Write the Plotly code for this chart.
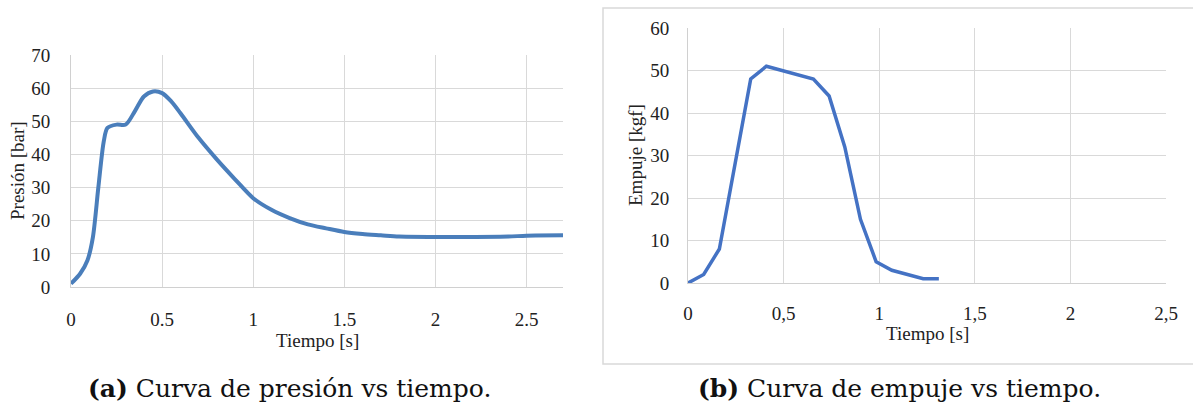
import plotly.graph_objects as go

W, H = 1193, 412

# (a) Pressure vs time
t_pres = [0.0, 0.05, 0.09, 0.12, 0.15, 0.18, 0.2, 0.25, 0.3, 0.35, 0.4, 0.45, 0.5,
          0.55, 0.6, 0.7, 0.8, 0.9, 1.0, 1.1, 1.2, 1.3, 1.4, 1.5, 1.6, 1.7, 1.8,
          2.0, 2.2, 2.4, 2.5, 2.7]
presion = [1, 4, 8, 15, 30, 44, 48, 49, 49, 53, 57.5, 59, 58.5,
           56, 52.5, 45, 38.5, 32.5, 26.8, 23.3, 20.8, 18.9, 17.7, 16.6, 16.0, 15.6, 15.2,
           15.1, 15.1, 15.2, 15.5, 15.6]

# (b) Thrust vs time
t_emp = [0.0, 0.082, 0.164, 0.328, 0.41, 0.656, 0.738, 0.82, 0.902, 0.984, 1.066, 1.23, 1.312]
empuje = [0, 2, 8, 48, 51, 48, 44, 32, 15, 5, 3, 1, 1]

x_ticks_a = [0, 0.5, 1, 1.5, 2, 2.5]
x_ticklabels_a = ["0", "0.5", "1", "1.5", "2", "2.5"]
y_ticks_a = [0, 10, 20, 30, 40, 50, 60, 70]
x_ticks_b = [0, 0.5, 1, 1.5, 2, 2.5]
x_ticklabels_b = ["0", "0,5", "1", "1,5", "2", "2,5"]
y_ticks_b = [0, 10, 20, 30, 40, 50, 60]

captions = ["<b>(a)</b> Curva de presión vs tiempo.", "<b>(b)</b> Curva de empuje vs tiempo."]

SERIF = "Liberation Serif"


def px_x(p):
    return p / W


def px_y(p):
    return 1 - p / H


fig = go.Figure()
fig.add_trace(go.Scatter(x=t_pres, y=presion, mode="lines",
                         line=dict(color="#4a7ebb", width=4, shape="spline", smoothing=0.8),
                         xaxis="x", yaxis="y", showlegend=False))
fig.add_trace(go.Scatter(x=t_emp, y=empuje, mode="lines", line=dict(color="#4472c4", width=3.5),
                         xaxis="x2", yaxis="y2", showlegend=False))

tickfont = dict(family=SERIF, size=19, color="#222222")
grid = "#d9d9d9"
common = dict(showgrid=True, gridcolor=grid, gridwidth=1, zeroline=False, showline=True,
              linecolor="#d0d0d0", tickfont=tickfont, ticks="", automargin=False)

fig.update_layout(
    template="none",
    width=W, height=H, margin=dict(l=0, r=0, t=0, b=0, pad=0, autoexpand=False),
    font=dict(family=SERIF, size=19, color="#222222"),
    paper_bgcolor="white", plot_bgcolor="white", showlegend=False,
    xaxis=dict(domain=[px_x(71), px_x(563)], range=[0, 2.7], tickvals=x_ticks_a, ticktext=x_ticklabels_a,
               ticklabelstandoff=15, anchor="y", **common),
    yaxis=dict(domain=[px_y(287), px_y(55)], range=[0, 70], tickvals=y_ticks_a,
               ticklabelstandoff=16, anchor="x", **common),
    xaxis2=dict(domain=[px_x(688), px_x(1166)], range=[0, 2.5], tickvals=x_ticks_b, ticktext=x_ticklabels_b,
                ticklabelstandoff=13, anchor="y2", **common),
    yaxis2=dict(domain=[px_y(283), px_y(28)], range=[0, 60], tickvals=y_ticks_b,
                ticklabelstandoff=14, anchor="x2", **common),
)

# frame around chart (b)
fig.add_shape(type="rect", xref="paper", yref="paper", x0=px_x(603), x1=px_x(1200), y0=px_y(364), y1=px_y(8),
              line=dict(color="#d9d9d9", width=1.5), fillcolor="rgba(0,0,0,0)", layer="below")

titlefont = dict(family=SERIF, size=19, color="#222222")
fig.add_annotation(text="Presión [bar]", xref="paper", yref="paper", x=px_x(18), y=px_y(171), textangle=-90,
                   showarrow=False, font=titlefont, xanchor="center", yanchor="middle")
fig.add_annotation(text="Tiempo [s]", xref="paper", yref="paper", x=px_x(317), y=px_y(340),
                   showarrow=False, font=titlefont, xanchor="center", yanchor="middle")
fig.add_annotation(text="Empuje [kgf]", xref="paper", yref="paper", x=px_x(636), y=px_y(155), textangle=-90,
                   showarrow=False, font=titlefont, xanchor="center", yanchor="middle")
fig.add_annotation(text="Tiempo [s]", xref="paper", yref="paper", x=px_x(927), y=px_y(333),
                   showarrow=False, font=titlefont, xanchor="center", yanchor="middle")

capfont = dict(family="DejaVu Serif", size=25, color="#111111")
fig.add_annotation(text=captions[0], xref="paper", yref="paper", x=px_x(289), y=px_y(388),
                   showarrow=False, font=capfont, xanchor="center", yanchor="middle")
fig.add_annotation(text=captions[1], xref="paper", yref="paper", x=px_x(899), y=px_y(388),
                   showarrow=False, font=capfont, xanchor="center", yanchor="middle")

fig.write_html("out.html", config={"displayModeBar": False},
               post_script="document.body.style.margin='0';document.body.style.overflow='hidden';")
